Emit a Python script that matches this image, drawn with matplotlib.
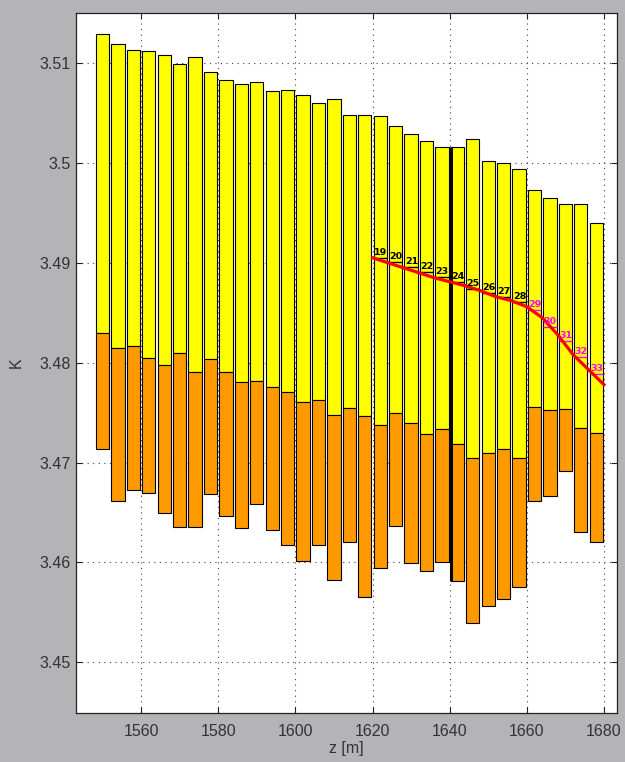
import matplotlib
matplotlib.use("Agg")
import matplotlib.pyplot as plt
import numpy as np

plt.rcParams['font.family'] = ['Liberation Sans', 'DejaVu Sans']

# bar positions (depth, m) and K intervals
z = [1550, 1554, 1558, 1562, 1566, 1570, 1574, 1578, 1582, 1586, 1590,
     1594, 1598, 1602, 1606, 1610, 1614, 1618, 1622, 1626, 1630, 1634,
     1638, 1642, 1646, 1650, 1654, 1658, 1662, 1666, 1670, 1674, 1678]
k_top = [3.5129, 3.5119, 3.5113, 3.5112, 3.5108, 3.5099, 3.5106, 3.5091,
         3.5083, 3.5079, 3.5081, 3.5072, 3.5073, 3.5068, 3.5060, 3.5064,
         3.5048, 3.5048, 3.5047, 3.5037, 3.5029, 3.5022, 3.5016, 3.5016,
         3.5024, 3.5002, 3.5000, 3.4994, 3.4973, 3.4965, 3.4959, 3.4959,
         3.4940]
k_mid = [3.4830, 3.4815, 3.4817, 3.4805, 3.4798, 3.4810, 3.4791, 3.4804,
         3.4791, 3.4781, 3.4782, 3.4776, 3.4771, 3.4761, 3.4763, 3.4748,
         3.4755, 3.4747, 3.4738, 3.4750, 3.4740, 3.4729, 3.4734, 3.4719,
         3.4705, 3.4710, 3.4714, 3.4705, 3.4756, 3.4753, 3.4754, 3.4735,
         3.4730]
k_bot = [3.4714, 3.4662, 3.4673, 3.4670, 3.4650, 3.4635, 3.4635, 3.4669,
         3.4647, 3.4634, 3.4659, 3.4632, 3.4617, 3.4601, 3.4617, 3.4582,
         3.4620, 3.4565, 3.4594, 3.4637, 3.4599, 3.4591, 3.4600, 3.4581,
         3.4539, 3.4556, 3.4563, 3.4575, 3.4662, 3.4667, 3.4692, 3.4630,
         3.4620]

# red trend line
line_z = [1620, 1624, 1628, 1632, 1636, 1640, 1644, 1648, 1652, 1656,
          1660, 1664, 1668, 1672, 1676, 1680]
line_k = [3.4905, 3.4900, 3.4895, 3.4890, 3.4885, 3.4881, 3.4877, 3.4872,
          3.4866, 3.4862, 3.4856, 3.4845, 3.4828, 3.4808, 3.4793, 3.4778]

# numbered markers on bars 19..33
mark_num = list(range(19, 34))
mark_k = [3.4905, 3.4901, 3.4896, 3.4891, 3.4886, 3.4881, 3.4874, 3.4870,
          3.4866, 3.4861, 3.4853, 3.4836, 3.4822, 3.4806, 3.4789]

width = 3.45
z = np.array(z)
k_top = np.array(k_top)
k_mid = np.array(k_mid)
k_bot = np.array(k_bot)

fig = plt.figure(figsize=(6.25, 7.62), dpi=100, facecolor='#b4b3b5')
ax = fig.add_axes([0.1221, 0.0639, 0.8646, 0.919])

ax.bar(z, k_top - k_mid, bottom=k_mid, width=width, color='#ffff00',
       edgecolor='black', linewidth=0.8, zorder=2)
ax.bar(z, k_mid - k_bot, bottom=k_bot, width=width, color='#ff9900',
       edgecolor='black', linewidth=0.8, zorder=2)

# thick edge seen on bar 24
i24 = 23
ax.vlines(z[i24] - width / 2, k_bot[i24], k_top[i24], color='black',
          linewidth=2.2, zorder=3)

for n, kv in zip(mark_num, mark_k):
    i = n - 1
    c = 'black' if n <= 28 else '#ff00ff'
    x0 = z[i] - width / 2
    ax.hlines(kv, x0, x0 + width, color=c, linewidth=1.0, zorder=3)
    ax.text(x0 + 0.1, kv + 0.00005, str(n), color=c, fontsize=6.8,
            fontweight='bold', ha='left', va='bottom', zorder=5,
            family=['DejaVu Sans'])

ax.plot(line_z, line_k, color='#ff0000', linewidth=2.3, zorder=4)

ax.set_xlim(1543.2, 1683.3)
ax.set_ylim(3.4449, 3.5150)
ax.set_xticks([1560, 1580, 1600, 1620, 1640, 1660, 1680])
ax.set_yticks([3.45, 3.46, 3.47, 3.48, 3.49, 3.50, 3.51])
ax.set_yticklabels(['3.45', '3.46', '3.47', '3.48', '3.49', '3.5', '3.51'])

ax.grid(True, linestyle=(0, (1, 4)), color='#404040', linewidth=0.8, zorder=0)
ax.set_axisbelow(True)
ax.tick_params(direction='in', length=4, width=0.8, top=True, right=True,
               labelsize=11.5, labelcolor='#333333', color='#222222')
ax.tick_params(axis='x', pad=8)
ax.tick_params(axis='y', pad=4)
for s in ax.spines.values():
    s.set_linewidth(0.9)
    s.set_color('#222222')

ax.set_xlabel('z [m]', fontsize=11.5, color='#333333', labelpad=1)
ax.set_ylabel('K', fontsize=11.5, color='#333333', labelpad=11)

fig.savefig('out.png', dpi=100, facecolor=fig.get_facecolor())
